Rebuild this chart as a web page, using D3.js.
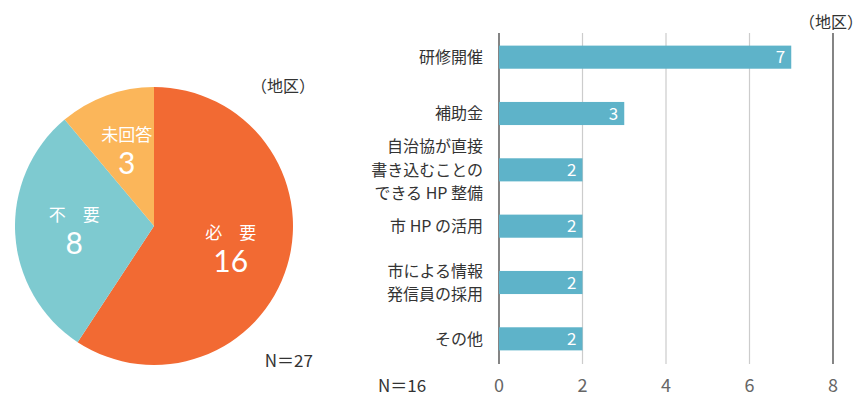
<!DOCTYPE html>
<html>
<head>
<meta charset="utf-8">
<script src="https://cdn.jsdelivr.net/npm/d3@7"></script>
<style>
  body { margin: 0; background: #fff; }
  svg { font-family: "Noto Sans CJK JP", "Noto Sans", sans-serif; }
</style>
</head>
<body>
<div id="chart"></div>
<script>
// pie data (地区)
let pieLabels = ['必　要', '不　要', '未回答'];
let pieValues = [16, 8, 3];
let pieColors = ['#f26a33', '#7ecad0', '#fbb65a'];

// bar data (地区)
let barCategories = [
    '研修開催',
    '補助金',
    '自治協が直接\n書き込むことの\nできる HP 整備',
    '市 HP の活用',
    '市による情報\n発信員の採用',
    'その他'
];
let barValues = [7, 3, 2, 2, 2, 2];
let xTicks = [0, 2, 4, 6, 8];

let svg = d3.select('#chart').append('svg')
    .attr('width', 866)
    .attr('height', 405);

// ---- pie ----
let cx = 154, cy = 226, radius = 139;
let pg = svg.append('g').attr('transform', 'translate(' + cx + ',' + cy + ')');

let pie = d3.pie().sort(null).value(function(d) { return d; });
let arcs = pie(pieValues);
let arc = d3.arc().innerRadius(0).outerRadius(radius);
let labelArc = d3.arc().innerRadius(80).outerRadius(80);

pg.selectAll('path.slice')
    .data(arcs)
    .enter().append('path')
    .attr('class', 'slice')
    .attr('d', arc)
    .attr('fill', function(d, i) { return pieColors[i]; });

let lbl = pg.selectAll('g.lbl')
    .data(arcs)
    .enter().append('g')
    .attr('class', 'lbl')
    .attr('transform', function(d) {
        let c = labelArc.centroid(d);
        return 'translate(' + c[0] + ',' + c[1] + ')';
    });

lbl.append('text')
    .attr('text-anchor', 'middle')
    .attr('y', -10)
    .attr('fill', '#fff')
    .style('font-size', '17px')
    .text(function(d, i) { return pieLabels[i]; });

lbl.append('text')
    .attr('text-anchor', 'middle')
    .attr('y', 23)
    .attr('fill', '#fff')
    .style('font-family', 'Lato, sans-serif')
    .style('font-size', '30px')
    .text(function(d) { return d.data; });

svg.append('text')
    .attr('x', 315).attr('y', 92)
    .attr('text-anchor', 'end')
    .attr('fill', '#333')
    .style('font-size', '16px')
    .text('（地区）');

svg.append('text')
    .attr('x', 313).attr('y', 367)
    .attr('text-anchor', 'end')
    .attr('fill', '#333')
    .style('font-size', '17px')
    .text('N＝27');

// ---- bar chart ----
let x = d3.scaleLinear().domain([0, 8]).range([499, 833]);
let y = d3.scaleBand().domain(barCategories).range([29, 367]).paddingInner(0.59).paddingOuter(0.295);
let gridTop = 33, gridBottom = 364;

let bg = svg.append('g');

// grid lines
bg.selectAll('line.grid')
    .data(xTicks)
    .enter().append('line')
    .attr('class', 'grid')
    .attr('x1', function(d) { return x(d); })
    .attr('x2', function(d) { return x(d); })
    .attr('y1', gridTop)
    .attr('y2', gridBottom)
    .attr('stroke', function(d, i) { return (i === 0 || i === xTicks.length - 1) ? '#666' : '#ccc'; })
    .attr('stroke-width', function(d, i) { return (i === 0 || i === xTicks.length - 1) ? 1.6 : 1.2; });

// bars
bg.selectAll('rect.bar')
    .data(barValues)
    .enter().append('rect')
    .attr('class', 'bar')
    .attr('x', x(0))
    .attr('y', function(d, i) { return y(barCategories[i]); })
    .attr('width', function(d) { return x(d) - x(0); })
    .attr('height', y.bandwidth())
    .attr('fill', '#5eb3c9');

// value labels
bg.selectAll('text.val')
    .data(barValues)
    .enter().append('text')
    .attr('class', 'val')
    .attr('x', function(d) { return x(d) - 6; })
    .attr('y', function(d, i) { return y(barCategories[i]) + y.bandwidth() / 2; })
    .attr('dy', '0.36em')
    .attr('text-anchor', 'end')
    .attr('fill', '#fff')
    .style('font-size', '17px')
    .text(function(d) { return d; });

// category labels
let cat = bg.selectAll('text.cat')
    .data(barCategories)
    .enter().append('text')
    .attr('class', 'cat')
    .attr('text-anchor', 'end')
    .attr('fill', '#333')
    .style('font-size', '16px')
    .style('white-space', 'pre');

cat.each(function(d) {
    let lines = d.split('\n');
    let mid = y(d) + y.bandwidth() / 2;
    let lh = 23.5;
    let t = d3.select(this);
    lines.forEach(function(line, j) {
        t.append('tspan')
            .attr('x', 483)
            .attr('y', mid + (j - (lines.length - 1) / 2) * lh)
            .attr('dy', '0.36em')
            .text(line);
    });
});

// x tick labels
bg.selectAll('text.tick')
    .data(xTicks)
    .enter().append('text')
    .attr('class', 'tick')
    .attr('x', function(d) { return x(d); })
    .attr('y', 392)
    .attr('text-anchor', 'middle')
    .attr('fill', '#666')
    .style('font-size', '18px')
    .text(function(d) { return d; });

svg.append('text')
    .attr('x', 378).attr('y', 392)
    .attr('fill', '#333')
    .style('font-size', '17px')
    .text('N＝16');

svg.append('text')
    .attr('x', 863).attr('y', 28)
    .attr('text-anchor', 'end')
    .attr('fill', '#333')
    .style('font-size', '16px')
    .text('（地区）');
</script>
</body>
</html>
